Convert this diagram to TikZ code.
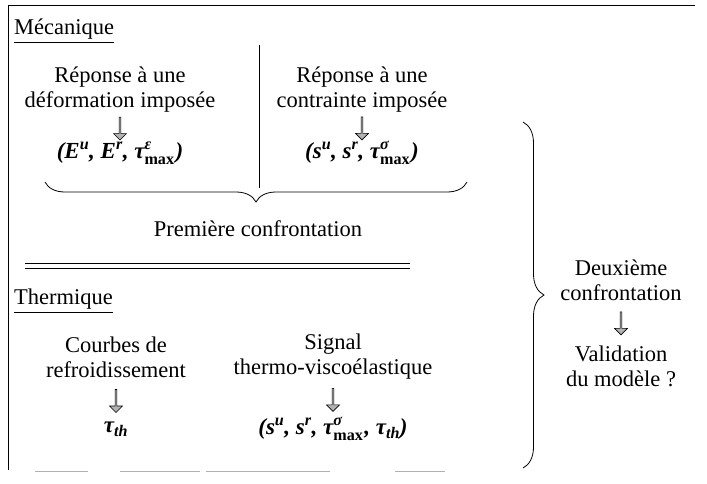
\documentclass[tikz,border=0pt]{standalone}
\usepackage{fontspec}
\usepackage{amsmath}
\setmainfont{Liberation Serif}
\usetikzlibrary{shapes.arrows,decorations.pathreplacing}
\newcommand{\sps}[1]{\textsuperscript{#1}}
\newcommand{\tsm}[1]{τ$^{\text{#1}}_{\text{\upshape max}}$\kern1pt}
\tikzset{
  lbl/.style={font=\fontsize{22.5}{25}\selectfont, align=center, inner sep=0pt},
  head/.style={font=\fontsize{22.5}{25}\selectfont, inner sep=0pt, anchor=west},
  fml/.style={font=\fontsize{23}{27}\selectfont\bfseries\itshape, inner sep=0pt},
  blockarrow/.style={single arrow, draw=black, fill=gray!60, line width=0.6pt,
    shape border rotate=270, inner sep=0pt, minimum height=23pt,
    minimum width=13pt, single arrow head extend=2pt, single arrow head indent=0pt},
  rule/.style={line width=0.8pt},
  faint/.style={line width=0.8pt, gray!60},
  bracestyle/.style={decorate, line width=0.8pt}
}
\begin{document}
\begin{tikzpicture}[x=1pt,y=-1pt]
\useasboundingbox (0,0) rectangle (707,483);
% frame
\draw[rule] (8,5) -- (695,5);
\draw[rule] (8,5) -- (8,470);
\draw[faint] (35,471) -- (88,471);
\draw[faint] (120,471) -- (200,471);
\draw[faint] (206,471) -- (330,471);
\draw[faint] (395,471) -- (445,471);
% Mecanique
\node[head] (mec) at (14,31) {\underline{Mécanique}};
\draw[rule] (259,45) -- (259,188);
\node[lbl] (d1) at (120,90) {Réponse à une\\déformation imposée};
\node[fml] (r1) at (120,153) {(\textit{E}\sps{u}, \textit{E}\sps{r}, \tsm{ε})};
\node[lbl] (d2) at (362,90) {Réponse à une\\contrainte imposée};
\node[fml] (r2) at (362,153) {(s\sps{u}, s\sps{r}, \tsm{σ})};
\path (d1.south) -- node[blockarrow, yshift=-1pt] (a1) {} (r1.north);
\path (d2.south) -- node[blockarrow, yshift=-1pt] (a2) {} (r2.north);
\draw[bracestyle, decoration={brace, mirror, amplitude=20pt}] (45,182) -- (467,182);
\node[lbl] (pc) at (258,229) {Première confrontation};
% double rule
\draw[rule] (25,263) -- (410,263);
\draw[rule] (25,268.5) -- (410,268.5);
% Thermique
\node[head] (th) at (14,301) {\underline{Thermique}};
\node[lbl] (c1) at (116,357) {Courbes de\\refroidissement};
\node[fml] (t1) at (116,429) {τ\textsubscript{th}};
\node[lbl] (c2) at (333,357) {Signal\\thermo-viscoélastique};
\node[fml] (t2) at (333,429) {(s\sps{u}, s\sps{r}, \tsm{σ}, τ\textsubscript{th})};
\path (c1.south) -- node[blockarrow, yshift=-1pt] (a3) {} (t1.north);
\path (c2.south) -- node[blockarrow, yshift=-1pt] (a4) {} (t2.north);
% right brace
\draw[bracestyle, decoration={brace, amplitude=21pt}] (523,122) -- (523,468);
\node[lbl] (dc) at (621,280) {Deuxième\\confrontation};
\node[lbl] (val) at (621,366) {Validation\\du modèle ?};
\path (dc.south) -- node[blockarrow] (a5) {} (val.north);
\end{tikzpicture}
\end{document}
